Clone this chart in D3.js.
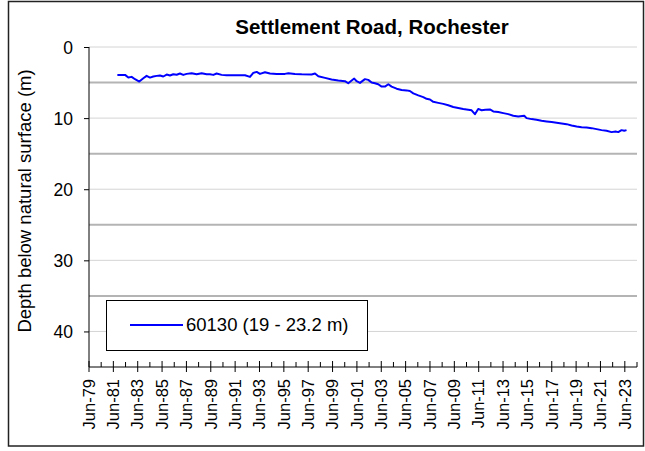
<!DOCTYPE html>
<html><head><meta charset="utf-8">
<script src="https://cdn.jsdelivr.net/npm/d3@7"></script>
<style>body{margin:0;background:#fff}svg{display:block}text{font-family:Arial,"Liberation Sans",sans-serif}</style>
</head><body>
<script>
const title = "Settlement Road, Rochester";
const yTitle = "Depth below natural surface (m)";
const seriesName = "60130 (19 - 23.2 m)";
const yTicks = [0, 10, 20, 30, 40];
const yMinorGrid = [5, 15, 25, 35];
const xStartYear = 1979, xEndYear = 2024;
const years = [1981.83,1982.46,1982.73,1983.00,1983.28,1983.63,1983.96,1984.23,1984.51,1984.78,1985.06,1985.33,1985.60,1985.88,1986.15,1986.42,1986.70,1986.97,1987.24,1987.52,1987.93,1988.34,1988.75,1989.16,1989.43,1989.71,1989.98,1990.39,1990.80,1991.35,1992.31,1992.72,1992.99,1993.27,1993.54,1993.95,1994.36,1994.91,1995.59,1995.87,1996.41,1996.96,1997.78,1998.06,1998.33,1998.88,1999.42,1999.97,2000.52,2000.79,2001.07,2001.28,2001.48,2001.75,2002.16,2002.43,2002.71,2002.98,2003.25,2003.53,2003.80,2004.08,2004.35,2004.76,2005.17,2005.58,2005.85,2006.13,2006.54,2006.95,2007.22,2007.50,2007.77,2008.18,2008.59,2009.00,2009.41,2009.82,2010.23,2010.64,2010.92,2011.19,2011.46,2011.74,2012.05,2012.42,2012.70,2013.11,2013.52,2013.93,2014.34,2014.75,2015.24,2015.43,2015.84,2016.25,2016.66,2017.08,2017.49,2017.90,2018.31,2018.72,2019.13,2019.54,2019.95,2020.36,2020.77,2021.18,2021.59,2022.00,2022.41,2022.74,2022.96,2023.23,2023.45,2023.64];
const depths = [3.92,3.92,4.30,4.20,4.53,4.86,4.40,4.06,4.30,4.15,4.06,4.00,4.15,3.87,4.00,3.83,3.90,3.73,3.92,3.78,3.69,3.83,3.69,3.83,3.83,3.92,3.73,3.92,3.97,3.97,3.97,4.20,3.64,3.50,3.78,3.55,3.73,3.78,3.78,3.69,3.78,3.83,3.87,3.73,4.10,4.34,4.58,4.72,4.81,5.10,4.72,4.44,4.81,5.05,4.52,4.62,5.00,5.10,5.24,5.57,5.57,5.24,5.57,5.86,6.05,6.10,6.19,6.52,6.81,7.05,7.29,7.38,7.71,7.86,8.00,8.19,8.43,8.57,8.71,8.81,8.90,9.45,8.71,8.90,8.83,8.78,9.06,9.15,9.30,9.44,9.67,9.77,9.67,10.00,10.14,10.23,10.38,10.47,10.56,10.66,10.75,10.85,11.03,11.17,11.27,11.31,11.41,11.55,11.69,11.78,11.97,11.88,11.97,11.69,11.78,11.69];

const W = 645, H = 451;
const m = {left: 89, right: 637, top: 47, bottom: 367};
const svg = d3.select("body").append("svg").attr("width", W).attr("height", H);
svg.append("rect").attr("width", W).attr("height", H).attr("fill", "#fff");
svg.append("rect").attr("x", 8.5).attr("y", 1.5).attr("width", 635).attr("height", 444.5)
  .attr("fill", "none").attr("stroke", "#222").attr("stroke-width", 1.5);

// scales: x in decimal years, June of each year = year + 0.5
const x = d3.scaleLinear().domain([xStartYear + 0.5, xEndYear + 0.5]).range([m.left, m.right]);
const y = d3.scaleLinear().domain([0, 45]).range([m.top, m.bottom]);

// gridlines
svg.append("g").selectAll("line").data(yTicks).join("line")
  .attr("x1", m.left).attr("x2", m.right).attr("y1", d => y(d)).attr("y2", d => y(d))
  .attr("stroke", "#d4d4d4").attr("stroke-width", 1);
svg.append("g").selectAll("line").data(yMinorGrid).join("line")
  .attr("x1", m.left).attr("x2", m.right).attr("y1", d => y(d)).attr("y2", d => y(d))
  .attr("stroke", "#b4b4b4").attr("stroke-width", 2);

// y axis
const yAxis = svg.append("g").attr("transform", `translate(${m.left},0)`)
  .call(d3.axisLeft(y).tickValues(yTicks).tickSize(5).tickPadding(4).tickFormat(d3.format("d")));
yAxis.select(".domain").attr("stroke", "#000").attr("d", `M0,${m.top}V${m.bottom}`);
yAxis.selectAll(".tick line").attr("stroke", "#000");
yAxis.selectAll(".tick text").attr("font-size", 17.5).attr("fill", "#000").attr("dy", "0.36em").attr("x", -16);

// x axis
const majorYears = d3.range(xStartYear, xEndYear, 2).map(v => v + 0.5);
const minorYears = d3.range(xStartYear + 1, xEndYear + 1, 2).map(v => v + 0.5);
const xg = svg.append("g");
xg.append("line").attr("x1", m.left).attr("x2", m.right).attr("y1", m.bottom).attr("y2", m.bottom).attr("stroke", "#000");
xg.selectAll("line.minor").data(minorYears).join("line").attr("class", "minor")
  .attr("x1", d => x(d)).attr("x2", d => x(d)).attr("y1", m.bottom - 5).attr("y2", m.bottom).attr("stroke", "#000");
xg.selectAll("line.major").data(majorYears).join("line").attr("class", "major")
  .attr("x1", d => x(d)).attr("x2", d => x(d)).attr("y1", m.bottom - 6).attr("y2", m.bottom + 5).attr("stroke", "#000");
const fmt = v => "Jun-" + String(Math.floor(v) % 100).padStart(2, "0");
xg.selectAll("text").data(majorYears).join("text")
  .attr("transform", d => `translate(${x(d)},${m.bottom + 12}) rotate(-90)`)
  .attr("text-anchor", "end").attr("dy", "0.35em").attr("font-size", 16.5).attr("fill", "#000")
  .text(fmt);

// line
const line = d3.line().x((d, i) => x(years[i])).y(d => y(d));
svg.append("path").datum(depths).attr("d", line).attr("fill", "none")
  .attr("stroke", "#0000ff").attr("stroke-width", 2).attr("stroke-linejoin", "round");

// title
svg.append("text").attr("x", 372).attr("y", 34).attr("text-anchor", "middle")
  .attr("font-size", 20.5).attr("font-weight", "bold").text(title);
svg.append("text").attr("transform", `translate(31,201) rotate(-90)`)
  .attr("text-anchor", "middle").attr("font-size", 18.5).text(yTitle);

// legend
const lg = svg.append("g");
lg.append("rect").attr("x", 106.5).attr("y", 300.5).attr("width", 261).attr("height", 50)
  .attr("fill", "#fff").attr("stroke", "#000").attr("stroke-width", 1);
lg.append("line").attr("x1", 130).attr("x2", 183).attr("y1", 325).attr("y2", 325)
  .attr("stroke", "#0000ff").attr("stroke-width", 2);
lg.append("text").attr("x", 186).attr("y", 331).attr("font-size", 18.5).text(seriesName);
</script>
</body></html>
